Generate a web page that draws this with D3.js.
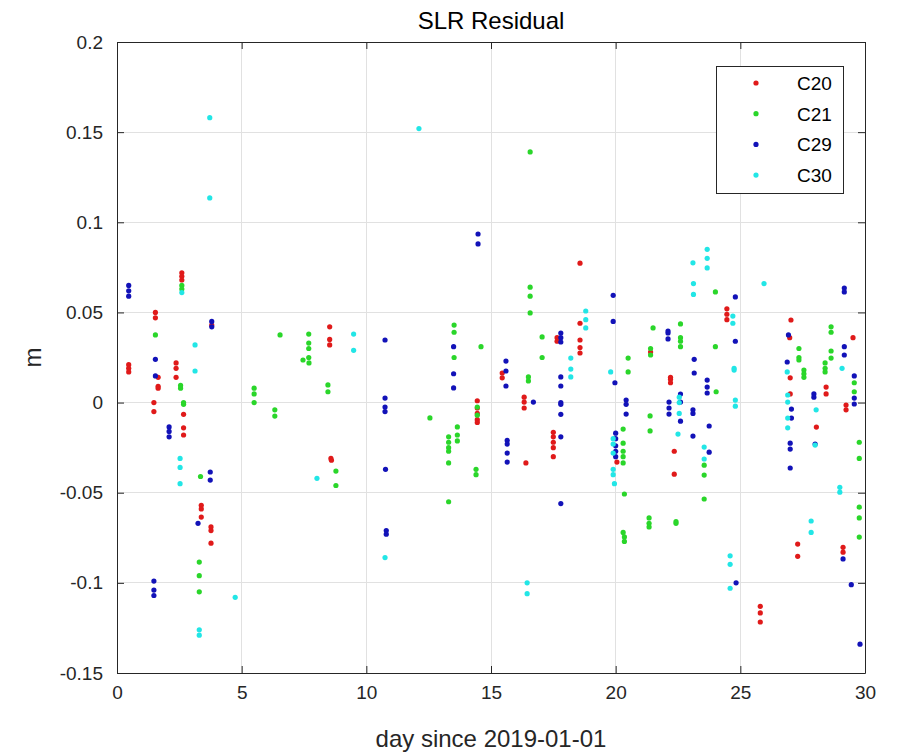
<!DOCTYPE html>
<html>
<head>
<meta charset="utf-8">
<script src="https://cdn.jsdelivr.net/npm/d3@7"></script>
<style>
  html, body { margin: 0; padding: 0; background: #fff; }
  svg { display: block; font-family: "Liberation Sans", Arial, sans-serif; }
</style>
</head>
<body>
<svg id="chart" width="905" height="752"></svg>
<script>
// SLR residuals per satellite: [day since 2019-01-01, residual in metres]
const c20 = [
  [0.47, 0.021], [0.47, 0.019], [0.47, 0.017],
  [1.54, 0.050], [1.54, 0.047], [1.65, 0.014], [1.65, 0.009], [1.65, 0.008], [1.48, 0.000], [1.48, -0.005],
  [2.37, 0.022], [2.37, 0.019], [2.37, 0.014],
  [2.6, 0.072], [2.6, 0.070], [2.6, 0.068],
  [2.67, -0.0065], [2.67, -0.014], [2.67, -0.018],
  [3.8, 0.043],
  [3.38, -0.057], [3.38, -0.059], [3.38, -0.0635],
  [3.77, -0.069], [3.77, -0.071], [3.77, -0.078],
  [8.53, 0.042], [8.53, 0.035], [8.53, 0.032],
  [8.58, -0.031], [8.6, -0.032],
  [14.45, 0.001], [14.45, -0.003], [14.45, -0.006], [14.45, -0.0095], [14.45, -0.011],
  [15.45, 0.0164], [15.45, 0.0137],
  [16.33, 0.003], [16.33, 0.0003], [16.33, -0.003],
  [16.4, -0.0335],
  [17.65, 0.036], [17.65, 0.034],
  [17.5, -0.0165], [17.5, -0.019], [17.5, -0.022], [17.5, -0.025], [17.5, -0.030],
  [18.57, 0.0773], [18.57, 0.044], [18.57, 0.0347], [18.57, 0.0305], [18.57, 0.0275],
  [20.05, -0.033],
  [21.4, 0.028],
  [22.2, 0.014], [22.2, 0.013], [22.2, 0.011],
  [22.35, -0.027], [22.35, -0.0397],
  [24.46, 0.052], [24.46, 0.049], [24.46, 0.046],
  [25.8, -0.113], [25.8, -0.1167], [25.8, -0.1217],
  [27.03, 0.0458], [26.98, 0.036], [27.0, 0.0137], [27.0, 0.0048],
  [27.3, -0.0785], [27.3, -0.0853],
  [28.05, -0.0136],
  [28.44, 0.0086], [28.44, 0.0048],
  [29.12, -0.0803], [29.12, -0.083],
  [29.24, -0.0014], [29.24, -0.004],
  [29.52, 0.036]
];

const c21 = [
  [1.54, 0.0375],
  [2.55, 0.0095], [2.55, 0.008], [2.67, 0.0], [2.67, -0.001],
  [2.6, 0.065], [2.6, 0.063],
  [3.35, -0.041],
  [3.3, -0.0885], [3.3, -0.096], [3.3, -0.105],
  [5.5, 0.008], [5.5, 0.0048], [5.5, 0.0],
  [6.33, -0.004], [6.33, -0.0075],
  [6.54, 0.0375],
  [7.46, 0.0236], [7.7, 0.022], [7.69, 0.038], [7.69, 0.033], [7.69, 0.030], [7.69, 0.025],
  [8.46, 0.0098], [8.46, 0.006],
  [8.78, -0.038], [8.78, -0.046],
  [12.55, -0.0085],
  [13.3, -0.019], [13.3, -0.022], [13.3, -0.025], [13.3, -0.027], [13.3, -0.0335], [13.3, -0.055],
  [13.52, 0.043], [13.52, 0.039], [13.52, 0.025],
  [13.65, -0.0135], [13.65, -0.018], [13.65, -0.0213],
  [14.45, -0.0025], [14.45, -0.007],
  [14.4, -0.037], [14.4, -0.04],
  [14.6, 0.031],
  [16.5, 0.0142], [16.5, 0.012],
  [16.57, 0.139], [16.57, 0.064], [16.57, 0.059], [16.57, 0.0497],
  [17.05, 0.0364], [17.05, 0.025],
  [20.3, -0.0147], [20.3, -0.0225], [20.3, -0.027], [20.3, -0.03], [20.3, -0.0335], [20.35, -0.0507],
  [20.3, -0.072], [20.35, -0.0745], [20.35, -0.077],
  [20.5, 0.0247], [20.5, 0.017],
  [21.38, -0.0074], [21.38, -0.0157],
  [21.34, -0.064], [21.34, -0.067], [21.34, -0.069],
  [21.5, 0.0414], [21.4, 0.030], [21.4, 0.0264],
  [22.42, -0.066], [22.42, -0.067],
  [22.6, 0.0436], [22.6, 0.036], [22.6, 0.034], [22.6, 0.031],
  [23.55, -0.0347], [23.55, -0.0402], [23.55, -0.0535],
  [24.0, 0.0614], [24.0, 0.031], [24.03, 0.006],
  [27.35, 0.030], [27.35, 0.025], [27.35, 0.0236],
  [27.55, 0.018], [27.55, 0.016], [27.55, 0.014],
  [28.4, 0.022], [28.4, 0.019], [28.4, 0.017],
  [28.64, 0.042], [28.64, 0.039], [28.64, 0.0286], [28.64, 0.0247],
  [29.57, 0.011], [29.57, 0.006],
  [29.77, -0.022], [29.77, -0.031], [29.77, -0.058], [29.77, -0.064], [29.77, -0.0746]
];

const c29 = [
  [0.47, 0.065], [0.47, 0.062], [0.47, 0.059],
  [1.54, 0.024], [1.54, 0.0148],
  [1.48, -0.099], [1.48, -0.104], [1.48, -0.107],
  [2.09, -0.0135], [2.09, -0.016], [2.09, -0.019],
  [3.25, -0.067],
  [3.8, 0.045], [3.8, 0.042],
  [3.74, -0.0385], [3.74, -0.043],
  [10.75, 0.0347], [10.75, 0.0025], [10.75, -0.0025], [10.75, -0.005], [10.77, -0.037], [10.8, -0.071], [10.8, -0.073],
  [13.5, 0.031], [13.5, 0.016], [13.5, 0.0081],
  [14.48, 0.0935], [14.48, 0.088],
  [15.6, 0.023], [15.6, 0.0175], [15.6, 0.0092],
  [15.65, -0.021], [15.65, -0.023], [15.65, -0.028], [15.65, -0.033],
  [16.7, 0.0003],
  [17.8, 0.0386], [17.8, 0.036], [17.8, 0.0336], [17.8, 0.0142], [17.8, 0.0092], [17.8, 0.0], [17.8, -0.001], [17.8, -0.0065], [17.8, -0.019], [17.8, -0.056],
  [19.9, 0.0595], [19.9, 0.045], [19.97, 0.011],
  [20.0, -0.017], [20.0, -0.02], [20.0, -0.024], [20.0, -0.027], [20.0, -0.03],
  [20.42, 0.0014], [20.42, -0.001], [20.42, -0.0064],
  [22.1, 0.0397], [22.1, 0.0386], [22.1, 0.0353],
  [22.14, 0.0003], [22.14, -0.003], [22.14, -0.0064],
  [22.6, 0.0047], [22.6, 0.0003], [22.6, -0.0103],
  [23.15, 0.024], [23.15, 0.0164],
  [23.1, -0.004], [23.1, -0.006], [23.1, -0.0186],
  [23.67, 0.0125], [23.67, 0.0086], [23.67, 0.0053],
  [23.75, -0.013], [23.75, -0.0275],
  [24.8, 0.0586], [24.8, 0.034],
  [24.83, -0.10],
  [26.88, 0.0225],
  [26.93, 0.0375],
  [27.05, -0.0036], [27.05, -0.0086],
  [27.0, -0.0225], [27.0, -0.0258], [27.0, -0.0363],
  [27.95, 0.0048], [27.95, 0.003],
  [28.0, -0.023],
  [29.17, 0.0635], [29.17, 0.0614], [29.17, 0.031], [29.17, 0.0264],
  [29.57, 0.0148], [29.57, 0.0025], [29.57, -0.0008],
  [29.12, -0.0867],
  [29.45, -0.101],
  [29.8, -0.134]
];

const c30 = [
  [2.6, 0.061],
  [2.53, -0.031], [2.53, -0.036], [2.53, -0.045],
  [3.13, 0.032], [3.13, 0.0175],
  [3.72, 0.158], [3.72, 0.1135],
  [3.3, -0.126], [3.3, -0.129],
  [4.74, -0.108],
  [8.02, -0.042],
  [9.49, 0.038], [9.49, 0.029],
  [10.75, -0.086],
  [12.11, 0.152],
  [16.45, -0.1], [16.45, -0.106],
  [18.2, 0.0247], [18.2, 0.0186], [18.2, 0.0142],
  [18.8, 0.0508], [18.8, 0.046], [18.8, 0.0414],
  [19.8, 0.017],
  [19.9, -0.02], [19.9, -0.023], [19.9, -0.028], [19.9, -0.037], [19.9, -0.04], [19.95, -0.045],
  [22.55, 0.003], [22.55, 0.0], [22.55, -0.006], [22.5, -0.0175],
  [23.1, 0.0775], [23.12, 0.066], [23.12, 0.06],
  [23.55, -0.0247], [23.55, -0.0313],
  [23.67, 0.085], [23.67, 0.08], [23.67, 0.0747],
  [24.59, -0.085], [24.59, -0.0897], [24.59, -0.103],
  [24.7, 0.048], [24.7, 0.044],
  [24.75, 0.019], [24.75, 0.018],
  [24.8, 0.0014], [24.8, -0.002],
  [25.95, 0.066],
  [26.88, 0.017], [26.9, 0.0042], [26.9, 0.0003], [26.9, -0.0086], [26.9, -0.014],
  [27.84, -0.0657], [27.84, -0.072],
  [28.0, -0.0236], [28.04, -0.004],
  [28.99, -0.047], [28.99, -0.0497],
  [29.08, 0.019]
];

const seriesNames = ["C20", "C21", "C29", "C30"];
const seriesColors = ["#e01a1a", "#2ad62a", "#1212b8", "#22e6e6"];
const seriesData = [c20, c21, c29, c30];

const xTicks = [0, 5, 10, 15, 20, 25, 30];
const yTicks = [-0.15, -0.1, -0.05, 0, 0.05, 0.1, 0.15, 0.2];

const titleText = "SLR Residual";
const xLabelText = "day since 2019-01-01";
const yLabelText = "m";

// Plot area bounds
const plotLeft = 117, plotRight = 865, plotTop = 42, plotBottom = 673;
const axisColor = "#262626";
const tickFont = 19, labelFont = 24;

const svg = d3.select("#chart");
const x = d3.scaleLinear().domain([0, 30]).range([plotLeft, plotRight]);
const y = d3.scaleLinear().domain([-0.15, 0.2]).range([plotBottom, plotTop]);

// Grid
const grid = svg.append("g");
grid.selectAll("line.vx").data(xTicks).join("line")
  .attr("x1", d => x(d)).attr("x2", d => x(d))
  .attr("y1", plotTop).attr("y2", plotBottom)
  .attr("stroke", "#e1e1e1").attr("stroke-width", 1).attr("shape-rendering", "crispEdges");
grid.selectAll("line.hy").data(yTicks).join("line")
  .attr("x1", plotLeft).attr("x2", plotRight)
  .attr("y1", d => y(d)).attr("y2", d => y(d))
  .attr("stroke", "#e1e1e1").attr("stroke-width", 1).attr("shape-rendering", "crispEdges");

// Points
seriesData.forEach((pts, i) => {
  svg.append("g").selectAll("circle").data(pts).join("circle")
    .attr("cx", d => x(d[0]))
    .attr("cy", d => y(d[1]))
    .attr("r", 2.6)
    .attr("fill", seriesColors[i]);
});

// Axes with inward ticks on all four sides
const fmt = d => String(+d.toFixed(2));
const tickLen = 7;
const styleAxis = g => {
  g.selectAll("path").attr("stroke", axisColor).attr("stroke-width", 1);
  g.selectAll("line").attr("stroke", axisColor);
  g.selectAll("text").attr("fill", axisColor).attr("font-size", tickFont)
    .attr("font-family", "'Liberation Sans', Arial, sans-serif");
};

svg.append("g").attr("transform", `translate(0,${plotBottom})`)
  .call(d3.axisBottom(x).tickValues(xTicks).tickSizeInner(-tickLen).tickSizeOuter(0).tickPadding(13).tickFormat(fmt))
  .call(styleAxis);
svg.append("g").attr("transform", `translate(0,${plotTop})`)
  .call(d3.axisTop(x).tickValues(xTicks).tickSizeInner(-tickLen).tickSizeOuter(0).tickFormat(""))
  .call(styleAxis);
svg.append("g").attr("transform", `translate(${plotLeft},0)`)
  .call(d3.axisLeft(y).tickValues(yTicks).tickSizeInner(-tickLen).tickSizeOuter(0).tickPadding(14).tickFormat(fmt))
  .call(styleAxis);
svg.append("g").attr("transform", `translate(${plotRight},0)`)
  .call(d3.axisRight(y).tickValues(yTicks).tickSizeInner(-tickLen).tickSizeOuter(0).tickFormat(""))
  .call(styleAxis);

// Titles
svg.append("text").attr("x", (plotLeft + plotRight) / 2).attr("y", 29)
  .attr("text-anchor", "middle").attr("font-size", labelFont).attr("fill", "#000")
  .text(titleText);
svg.append("text").attr("x", (plotLeft + plotRight) / 2).attr("y", 747)
  .attr("text-anchor", "middle").attr("font-size", labelFont).attr("fill", axisColor)
  .text(xLabelText);
svg.append("text")
  .attr("transform", `translate(41,${(plotTop + plotBottom) / 2}) rotate(-90)`)
  .attr("text-anchor", "middle").attr("font-size", labelFont).attr("fill", axisColor)
  .text(yLabelText);

// Legend
const lg = svg.append("g");
lg.append("rect").attr("x", 716.5).attr("y", 66.5).attr("width", 127).attr("height", 127)
  .attr("fill", "#fff").attr("stroke", axisColor).attr("stroke-width", 1);
seriesNames.forEach((name, i) => {
  const cy = 83 + i * 30.7;
  lg.append("circle").attr("cx", 756).attr("cy", cy).attr("r", 2.6).attr("fill", seriesColors[i]);
  lg.append("text").attr("x", 797).attr("y", cy + 7).attr("font-size", tickFont)
    .attr("fill", "#000").text(name);
});
</script>
</body>
</html>
